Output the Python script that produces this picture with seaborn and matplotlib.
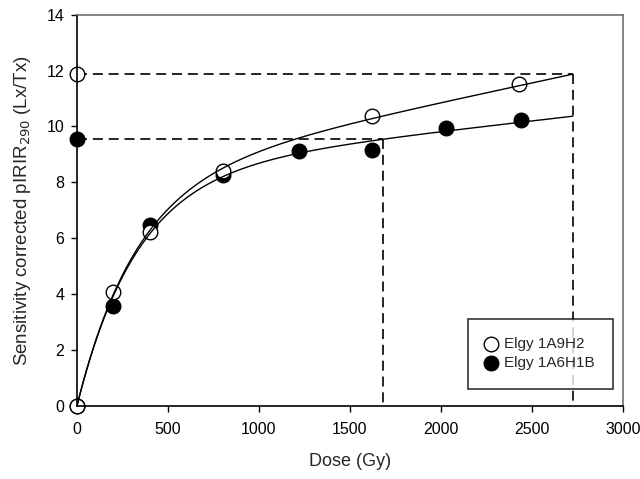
import numpy as np
import pandas as pd
import matplotlib
matplotlib.use("Agg")
import matplotlib.pyplot as plt
import seaborn as sns

# Regenerated dose points (Gy) and sensitivity-corrected Lx/Tx
dose_a = [0, 200, 400, 800, 1620, 2430]
lxtx_a = [0.0, 4.08, 6.23, 8.41, 10.37, 11.52]
dose_b = [0, 200, 400, 800, 1220, 1620, 2030, 2440]
lxtx_b = [0.0, 3.57, 6.47, 8.26, 9.13, 9.15, 9.96, 10.23]

# Natural signals and the interpolated equivalent doses
natural_a = 11.87
natural_b = 9.54
de_a = 2725
de_b = 1682

labels = ["Elgy 1A9H2", "Elgy 1A6H1B"]
x_ticks = [0, 500, 1000, 1500, 2000, 2500, 3000]
y_ticks = [0, 2, 4, 6, 8, 10, 12, 14]


def fit_exp_lin(x, y, x0, y0, w0=20.0):
    """Weighted least-squares fit of y = a*(1-exp(-x/d0)) + b*x, scanning d0.

    The (x0, y0) pair (equivalent dose, natural signal) is given a large
    weight so the growth curve runs through the interpolation point.
    """
    x = np.append(np.asarray(x, float), x0)
    y = np.append(np.asarray(y, float), y0)
    w = np.ones_like(x)
    w[-1] = w0
    best = None
    for d0 in np.linspace(50, 3000, 2951):
        A = np.column_stack([1 - np.exp(-x / d0), x])
        coef, *_ = np.linalg.lstsq(A * w[:, None], y * w, rcond=None)
        err = np.sum(((A @ coef - y) * w) ** 2)
        if best is None or err < best[0]:
            best = (err, d0, coef)
    _, d0, (a, b) = best
    return lambda d: a * (1 - np.exp(-d / d0)) + b * d


sns.set_style("ticks")
plt.rcParams["font.family"] = ["Liberation Sans", "DejaVu Sans"]

fig = plt.figure(figsize=(6.4, 4.79), dpi=100)
ax = fig.add_axes([0.1203, 0.153, 0.8527, 0.8163])

# Fitted growth curves
fa = fit_exp_lin(dose_a, lxtx_a, de_a, natural_a)
fb = fit_exp_lin(dose_b, lxtx_b, de_b, natural_b)
grid = np.linspace(0, de_a, 300)
curves = pd.DataFrame({
    "dose": np.concatenate([grid, grid]),
    "lxtx": np.concatenate([fa(grid), fb(grid)]),
    "sample": [labels[0]] * len(grid) + [labels[1]] * len(grid),
})
sns.lineplot(data=curves, x="dose", y="lxtx", units="sample", estimator=None,
             color="black", linewidth=1.0, ax=ax, zorder=3, sort=False)

# Equivalent-dose projection lines
dash = dict(color="black", linewidth=1.2, linestyle=(0, (6, 3.5)), zorder=1)
ax.plot([0, de_a], [natural_a, natural_a], **dash)
ax.plot([de_a, de_a], [natural_a, 0], **dash)
ax.plot([0, de_b], [natural_b, natural_b], **dash)
ax.plot([de_b, de_b], [natural_b, 0], **dash)

# Measured points, including the natural signal at zero dose
pts_a = pd.DataFrame({"dose": [0] + dose_a, "lxtx": [natural_a] + lxtx_a})
pts_b = pd.DataFrame({"dose": [0] + dose_b, "lxtx": [natural_b] + lxtx_b})
sns.scatterplot(data=pts_b, x="dose", y="lxtx", s=110, color="black",
                edgecolor="black", linewidth=1.0, ax=ax, zorder=2,
                label=labels[1])
sns.scatterplot(data=pts_a, x="dose", y="lxtx", s=110, color="white",
                edgecolor="black", linewidth=1.0, ax=ax, zorder=2,
                label=labels[0])
for coll in ax.collections:
    coll.set_clip_on(False)

ax.set_xlim(0, 3000)
ax.set_ylim(0, 14)
ax.set_xticks(x_ticks)
ax.set_yticks(y_ticks)
ax.tick_params(direction="out", length=4, width=1, labelsize=11.5,
               colors="black", pad=5)
ax.tick_params(axis="x", pad=8)
ax.set_xlabel("Dose (Gy)", fontsize=13, labelpad=11)
ax.set_ylabel("Sensitivity corrected pIRIR$_{290}$ (Lx/Tx)", fontsize=13.5,
              labelpad=10)

for side in ["left", "bottom"]:
    ax.spines[side].set_color("black")
    ax.spines[side].set_linewidth(1.2)
for side in ["top", "right"]:
    ax.spines[side].set_visible(True)
    ax.spines[side].set_color("#707070")
    ax.spines[side].set_linewidth(1.2)

handles, labs = ax.get_legend_handles_labels()
order = [labs.index(labels[0]), labs.index(labels[1])]
leg = ax.legend([handles[i] for i in order], [labs[i] for i in order],
                loc="upper left", bbox_to_anchor=(0.716, 0.2225),
                frameon=True, fancybox=False, edgecolor="black",
                fontsize=11, borderpad=1.2, handletextpad=0.5,
                handlelength=0.7, labelspacing=0.35, borderaxespad=0)
leg.get_frame().set_linewidth(1.2)

fig.savefig("out.png", dpi=100)
